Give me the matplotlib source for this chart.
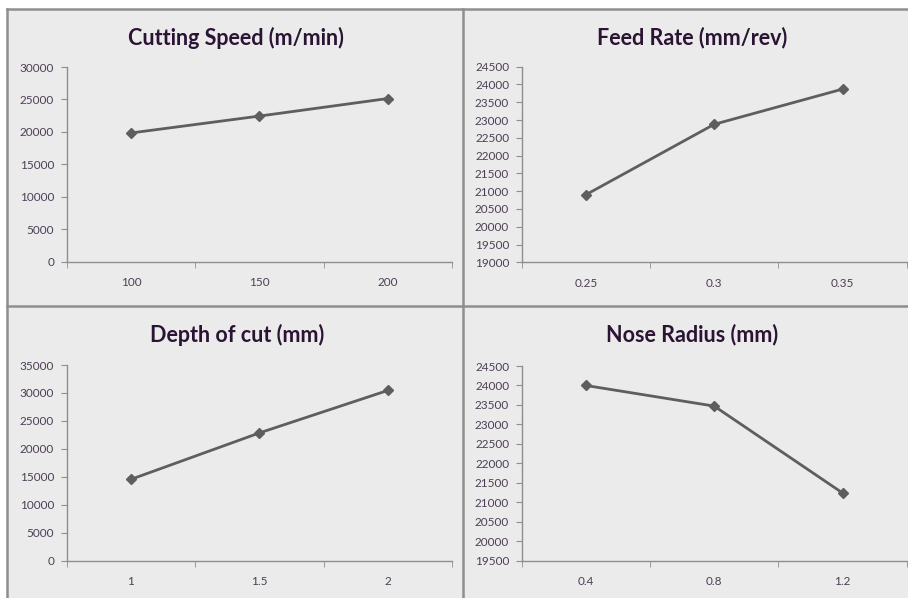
import matplotlib.pyplot as plt
from matplotlib.patches import Rectangle
from matplotlib.lines import Line2D

# Datos de cada panel
speed_labels = ['100', '150', '200']
speed_vals = [19850, 22450, 25150]

feed_labels = ['0.25', '0.3', '0.35']
feed_vals = [20900, 22880, 23870]

depth_labels = ['1', '1.5', '2']
depth_vals = [14550, 22850, 30450]

nose_labels = ['0.4', '0.8', '1.2']
nose_vals = [24000, 23470, 21240]

W, H = 908, 598
bg = '#ebebeb'
border = '#8e8e8e'
title_color = '#2b1433'
tick_color = '#4d3f55'
line_color = '#5e5e5e'

plt.rcParams['font.family'] = ['Lato', 'DejaVu Sans']

fig = plt.figure(figsize=(W / 100, H / 100), dpi=100)
fig.patch.set_facecolor('white')

# fondo gris y bordes de los paneles
fig.patches.append(Rectangle((7 / W, 0), 1, 1 - 9 / H, transform=fig.transFigure,
                             facecolor=bg, edgecolor='none', zorder=-5))
for seg in [((7, 7), (9, H)), ((7, W), (9, 9)), ((463, 463), (9, H)), ((7, W), (306, 306))]:
    xs = [v / W for v in seg[0]]
    ys = [1 - v / H for v in seg[1]]
    fig.add_artist(Line2D(xs, ys, transform=fig.transFigure, color=border, lw=1.8, zorder=-4))


def panel(box, labels, vals, ylim, ystep, title, title_xy):
    l, t, r, b = box
    ax = fig.add_axes([l / W, 1 - b / H, (r - l) / W, (b - t) / H])
    ax.set_facecolor('none')
    x = list(range(len(labels)))
    ax.plot(x, vals, color=line_color, lw=2, marker='D', ms=5.5, zorder=3, clip_on=False)
    ax.set_xlim(-0.5, len(labels) - 0.5)
    ax.set_ylim(*ylim)
    ax.set_yticks(range(ylim[0], ylim[1] + 1, ystep))
    ax.set_xticks(x)
    ax.set_xticklabels(labels)
    ax.set_xticks([i - 0.5 for i in range(len(labels) + 1)], minor=True)
    ax.tick_params(axis='x', which='major', length=0, pad=11, labelsize=8.5, labelcolor=tick_color)
    ax.tick_params(axis='x', which='minor', length=4, color=border, direction='out')
    ax.tick_params(axis='y', length=4, color=border, labelsize=8.5, labelcolor=tick_color, pad=5)
    for s in ['top', 'right']:
        ax.spines[s].set_visible(False)
    for s in ['left', 'bottom']:
        ax.spines[s].set_color(border)
        ax.spines[s].set_linewidth(1)
    fig.text(title_xy[0] / W, 1 - title_xy[1] / H, title, ha='center', va='center',
             fontsize=15.5, fontweight='bold', color=title_color)


panel((66.7, 67, 452, 262), speed_labels, speed_vals, (0, 30000), 5000,
      'Cutting Speed (m/min)', (236, 38))
panel((521.7, 66.7, 906.7, 262.3), feed_labels, feed_vals, (19000, 24500), 500,
      'Feed Rate (mm/rev)', (692, 38))
panel((66.7, 365, 452, 560.7), depth_labels, depth_vals, (0, 35000), 5000,
      'Depth of cut (mm)', (237, 335))
panel((521.7, 366, 906.7, 560.7), nose_labels, nose_vals, (19500, 24500), 500,
      'Nose Radius (mm)', (692, 335))

fig.savefig('out.png', dpi=100, facecolor=fig.get_facecolor())
